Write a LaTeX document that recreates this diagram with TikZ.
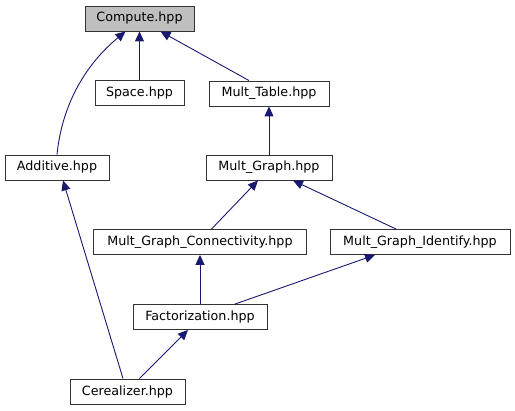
\documentclass[tikz,border=0pt]{standalone}
\usepackage{fontspec}
\setmainfont{DejaVu Sans}
\usepackage{tikz}
\usetikzlibrary{arrows.meta, calc}
\definecolor{edgeblue}{RGB}{25, 25, 112}
\definecolor{rootgray}{RGB}{191, 191, 191}

\tikzset{
    filebox/.style={draw=black!80, fill=white, line width=0.9pt, inner sep=0pt,
        minimum height=25pt, font=\fontsize{12.7}{15}\selectfont},
    incl/.style={edgeblue, line width=0.9pt, {Triangle[length=10pt, width=9pt]}-}
}

\begin{document}
\begin{tikzpicture}[x=1pt, y=-1pt]
    \useasboundingbox (0, 0) rectangle (515, 411);

    % Files
    \node[filebox, fill=rootgray, minimum width=109pt] (comp) at (139.5, 18.5) {Compute.hpp};
    \node[filebox, minimum width=89pt] (space) at (139.5, 93) {Space.hpp};
    \node[filebox, minimum width=120pt] (mtab) at (269, 93.5) {Mult\_Table.hpp};
    \node[filebox, minimum width=104pt] (add) at (57, 167.5) {Additive.hpp};
    \node[filebox, minimum width=126pt] (mgraph) at (269, 167.5) {Mult\_Graph.hpp};
    \node[filebox, minimum width=213pt] (conn) at (200, 242) {Mult\_Graph\_Connectivity.hpp};
    \node[filebox, minimum width=180pt] (ident) at (420, 242) {Mult\_Graph\_Identify.hpp};
    \node[filebox, minimum width=134pt] (fact) at (200, 317) {Factorization.hpp};
    \node[filebox, minimum width=115pt] (cer) at (127.5, 391.5) {Cerealizer.hpp};

    % Include edges
    \draw[incl] ($(comp.south)+(-14, 0)$) .. controls (85, 65) and (62, 105) .. (add.north);
    \draw[incl] (comp.south) -- (space.north);
    \draw[incl] ($(comp.south)+(21, 0)$) -- ($(mtab.north)+(-20, 0)$);
    \draw[incl] (mtab.south) -- (mgraph.north);
    \draw[incl] ($(mgraph.south)+(-11, 0)$) -- ($(conn.north)+(11.5, 0)$);
    \draw[incl] ($(mgraph.south)+(24, 0)$) -- ($(ident.north)+(-24, 0)$);
    \draw[incl] (conn.south) -- (fact.north);
    \draw[incl] ($(ident.south)+(-45, 0)$) -- ($(fact.north)+(35, 0)$);
    \draw[incl] ($(fact.south)+(-12, 0)$) -- ($(cer.north)+(12, 0)$);
    \draw[incl] ($(add.south)+(6, 0)$) -- ($(cer.north)+(-4.5, 0)$);
\end{tikzpicture}
\end{document}
